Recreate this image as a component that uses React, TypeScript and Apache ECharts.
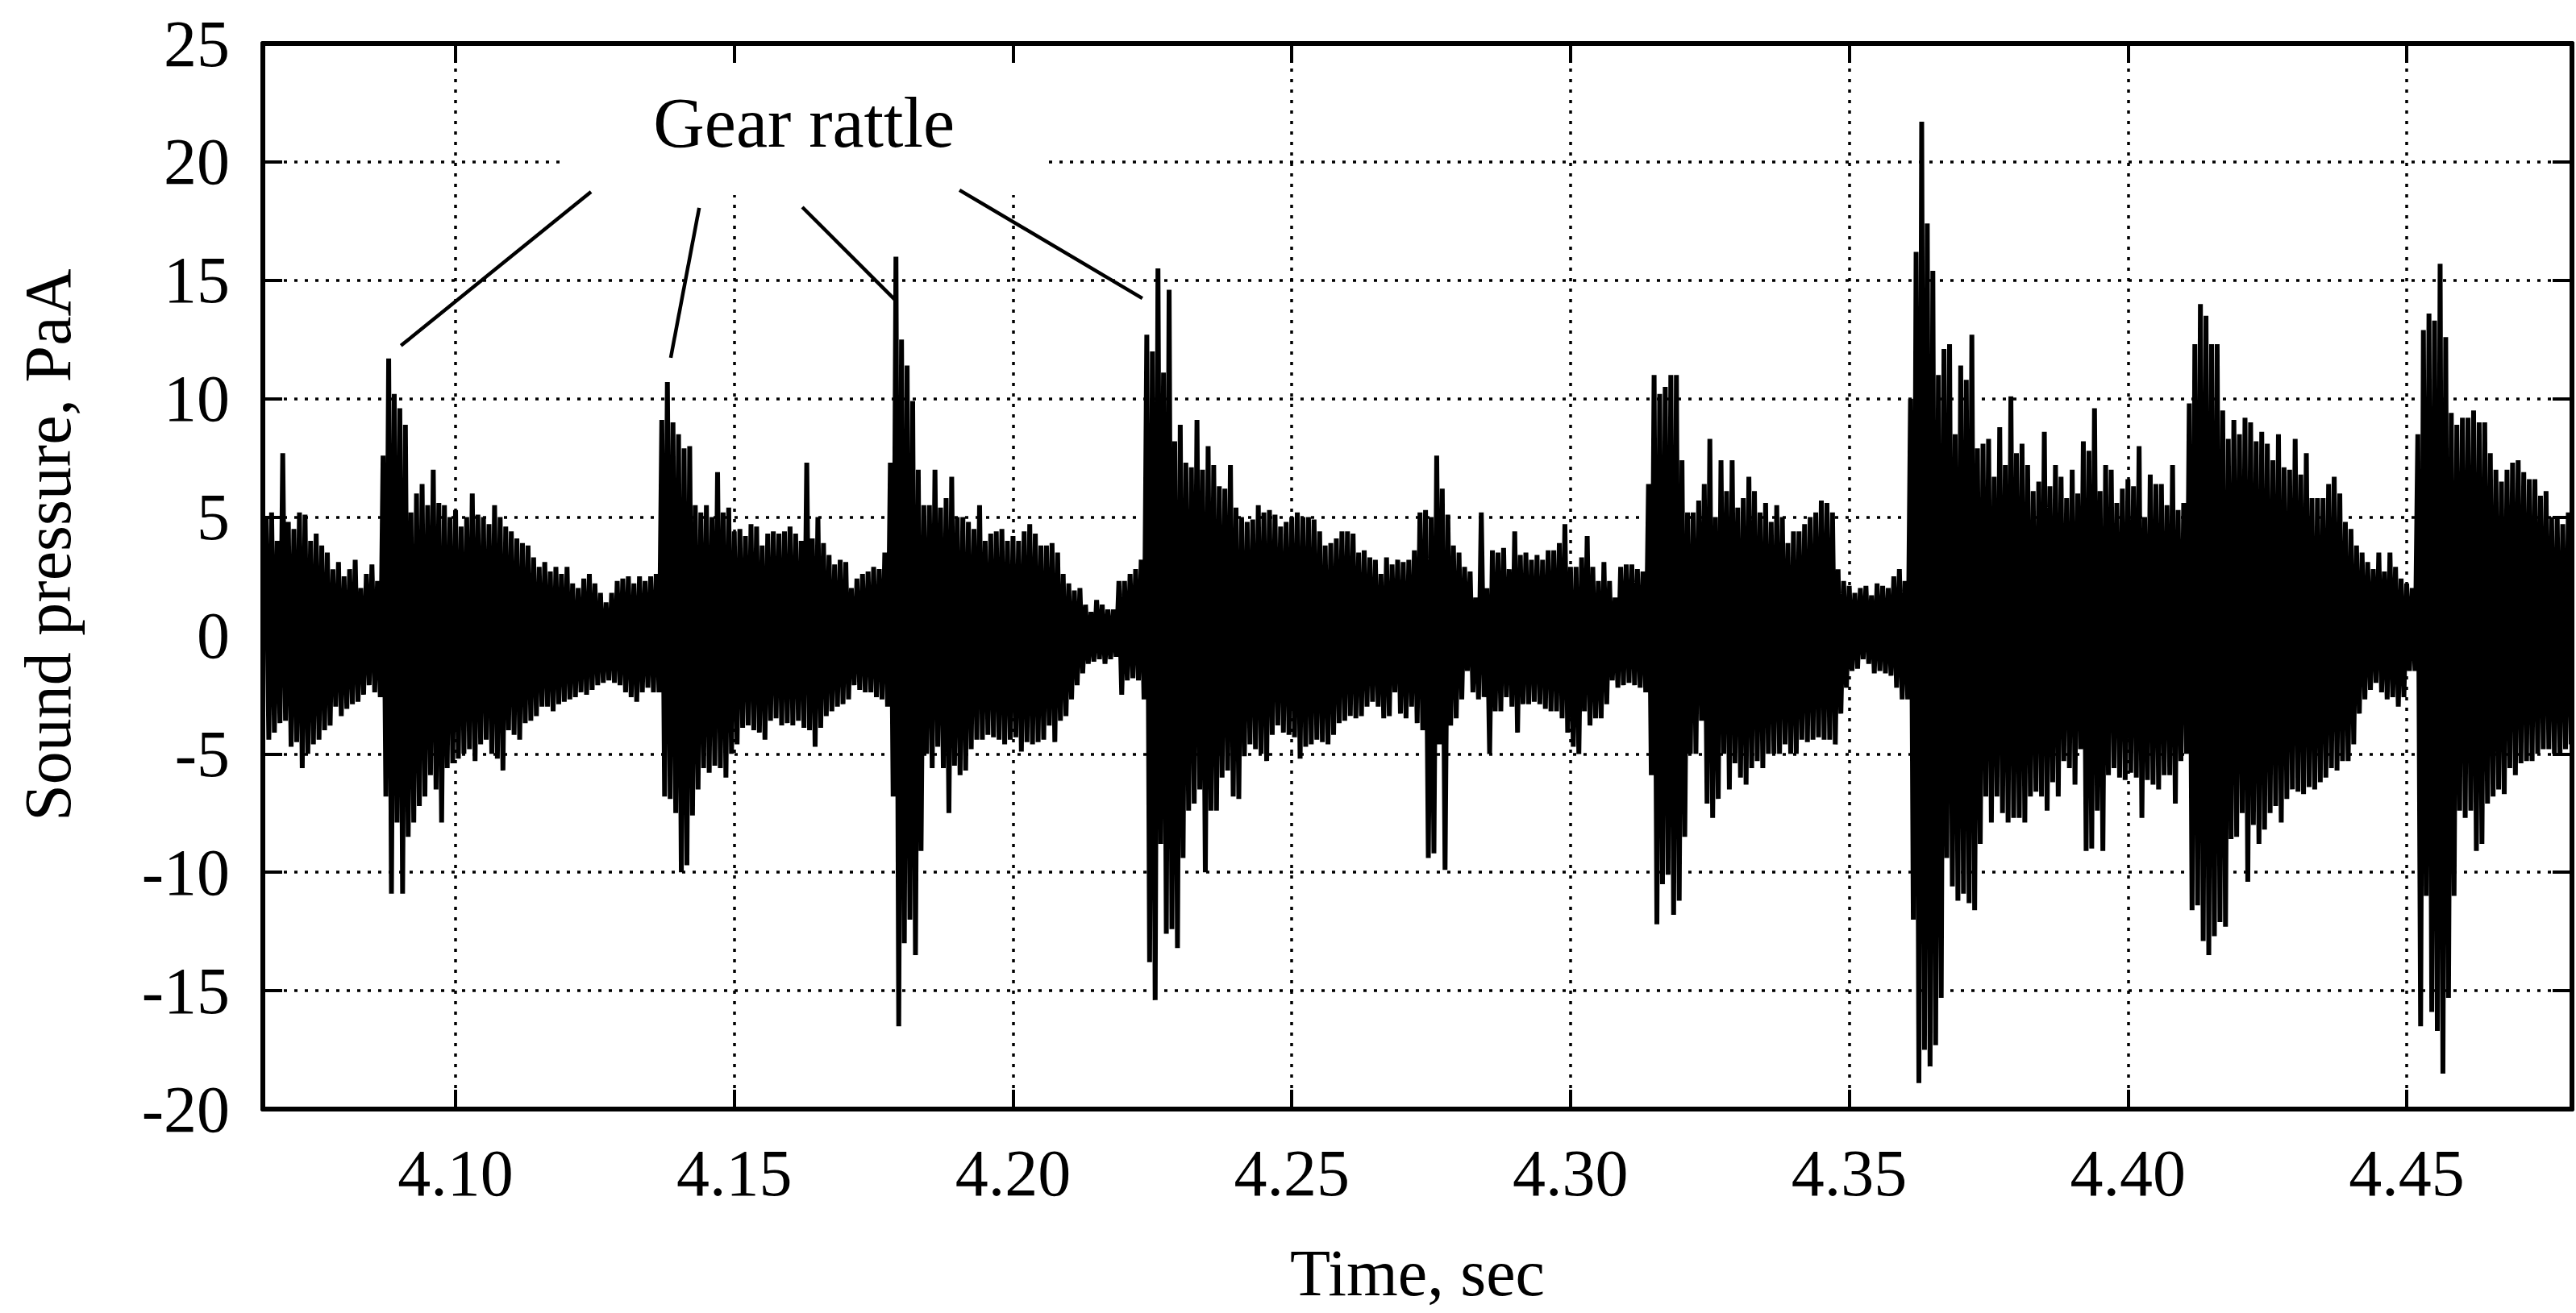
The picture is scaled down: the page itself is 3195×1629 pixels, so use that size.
import React, { useEffect, useRef } from "react";
import * as echarts from "echarts";

// ---- axes ----
const X_MIN = 4.06543;
const X_MAX = 4.47965;
const X_TICKS = [4.1, 4.15, 4.2, 4.25, 4.3, 4.35, 4.4, 4.45];
const Y_MIN = -20;
const Y_MAX = 25;
const Y_STEP = 5;

// ---- waveform envelope, read per millisecond (upper / lower excursions, PaA) ----
const DT = 0.001;
const SEG_START = [4.066, 4.137, 4.207, 4.277, 4.345, 4.415];

const HI_A = [5.0, 5.2, 4.0, 7.7, 4.8, 4.5, 5.2, 5.1, 4.0, 4.3,
  3.8, 3.5, 2.8, 3.1, 2.5, 2.8, 3.2, 2.0, 2.6, 3.0,
  2.3, 7.6, 11.7, 10.2, 9.6, 8.9, 5.2, 6.0, 6.4, 5.5,
  7.0, 5.6, 5.5, 5.0, 5.3, 4.6, 5.0, 6.0, 5.1, 5.0,
  4.7, 5.5, 5.0, 4.6, 4.4, 4.1, 3.9, 3.8, 3.3, 2.9,
  3.1, 2.7, 2.9, 2.6, 2.9, 2.2, 2.0, 2.4, 2.6, 2.2,
  1.8, 1.4, 1.8, 2.3, 2.4, 2.5, 2.2, 2.5, 2.3, 2.5,
  2.6];
const LO_A = [-4.4, -4.1, -3.7, -3.6, -4.7, -4.5, -5.6, -5.0, -4.6, -4.4,
  -4.0, -3.8, -3.0, -3.4, -3.1, -2.9, -2.8, -2.5, -2.1, -2.4,
  -2.6, -6.8, -10.9, -7.9, -10.9, -8.5, -7.9, -7.2, -6.8, -5.9,
  -6.5, -7.9, -5.6, -5.4, -5.2, -5.0, -4.8, -5.3, -4.6, -4.4,
  -5.0, -5.2, -5.7, -4.0, -4.2, -4.4, -3.7, -3.6, -3.4, -3.0,
  -3.0, -3.2, -2.9, -2.8, -2.7, -2.6, -2.4, -2.5, -2.3, -2.1,
  -2.0, -1.9, -2.0, -2.1, -2.4, -2.6, -2.8, -2.4, -2.2, -2.4,
  -2.4];

const HI_B = [9.1, 10.7, 9.0, 8.5, 7.9, 8.0, 5.5, 5.2, 5.5, 5.0,
  6.9, 5.2, 5.4, 4.4, 4.5, 4.2, 4.7, 4.6, 3.8, 4.3,
  4.4, 4.3, 4.4, 4.6, 4.3, 4.0, 7.3, 4.1, 5.0, 3.9,
  3.4, 3.0, 3.2, 3.1, 2.0, 2.4, 2.6, 2.7, 2.9, 2.8,
  3.5, 7.3, 16.0, 12.5, 11.4, 9.9, 7.0, 5.5, 5.5, 7.0,
  5.4, 5.8, 6.7, 5.0, 5.0, 4.8, 4.5, 5.5, 4.0, 4.3,
  4.4, 4.5, 4.0, 4.2, 4.0, 4.4, 4.7, 4.3, 3.8, 3.8];
const LO_B = [-6.8, -6.9, -7.5, -10.0, -9.7, -7.6, -6.5, -5.6, -5.8, -5.5,
  -5.6, -6.0, -5.0, -4.6, -3.9, -3.8, -4.0, -4.1, -4.4, -3.6,
  -3.5, -3.8, -3.7, -3.8, -3.6, -3.9, -4.0, -4.7, -3.9, -3.4,
  -3.2, -3.0, -2.9, -2.7, -2.1, -2.3, -2.4, -2.4, -2.6, -2.7,
  -3.0, -6.8, -16.5, -13.0, -12.0, -13.5, -9.1, -5.0, -5.6, -4.7,
  -5.6, -7.5, -5.5, -5.9, -5.7, -4.8, -4.4, -4.4, -4.2, -4.3,
  -4.4, -4.6, -4.4, -4.3, -4.9, -4.5, -4.6, -4.5, -4.4, -3.8];

const HI_C = [3.9, 3.5, 2.6, 2.2, 1.9, 2.0, 1.3, 1.0, 1.5, 1.3,
  1.1, 1.1, 2.3, 2.3, 2.6, 2.8, 3.2, 12.7, 12.0, 15.5,
  11.1, 14.6, 8.2, 8.9, 7.3, 7.1, 9.1, 7.0, 8.0, 7.2,
  6.3, 6.2, 7.2, 5.4, 5.0, 4.8, 4.9, 5.5, 5.2, 5.3,
  5.1, 4.6, 4.8, 5.0, 5.2, 5.0, 5.0, 4.9, 4.4, 3.8,
  3.9, 4.1, 4.4, 4.4, 4.3, 3.5, 3.6, 3.3, 3.2, 2.6,
  3.3, 3.0, 3.2, 3.1, 3.2, 3.6, 5.2, 5.3, 5.0, 7.6];
const LO_C = [-4.5, -3.6, -3.4, -2.7, -2.1, -1.6, -1.2, -1.1, -1.0, -1.2,
  -1.0, -0.9, -2.5, -1.9, -1.8, -1.9, -2.7, -13.8, -15.4, -8.8,
  -12.6, -12.4, -13.2, -9.4, -7.4, -7.1, -6.5, -10.0, -7.4, -7.4,
  -6.0, -5.7, -6.8, -6.9, -5.1, -4.6, -4.8, -5.0, -5.3, -4.2,
  -3.8, -4.1, -4.2, -4.3, -5.2, -4.7, -4.6, -4.4, -4.5, -4.6,
  -4.2, -3.7, -3.6, -3.4, -3.5, -3.4, -3.0, -2.8, -3.0, -3.5,
  -3.4, -2.4, -3.3, -3.5, -3.0, -3.7, -4.0, -9.4, -9.2, -4.6];

const HI_D = [6.2, 5.1, 3.8, 3.5, 2.9, 2.7, 1.6, 5.2, 2.0, 3.6,
  3.5, 3.7, 2.8, 4.4, 3.4, 3.5, 3.2, 3.4, 3.2, 3.6,
  3.6, 3.9, 4.7, 2.9, 2.9, 3.3, 4.2, 2.9, 2.3, 3.1,
  2.3, 1.6, 2.9, 3.0, 3.0, 2.8, 2.7, 6.4, 11.0, 10.2,
  10.5, 11.0, 11.0, 7.4, 5.2, 5.2, 5.7, 6.4, 8.3, 5.0,
  7.4, 6.1, 7.4, 5.4, 5.8, 6.7, 6.1, 5.2, 5.6, 4.8,
  5.5, 5.0, 3.9, 4.4, 4.4, 4.7, 5.0, 5.2];
const LO_D = [-9.9, -3.8, -3.5, -2.7, -1.5, -2.4, -2.7, -2.6, -5.0, -3.2,
  -3.2, -2.6, -3.0, -4.1, -2.9, -2.9, -2.8, -2.9, -3.1, -3.2,
  -3.2, -3.5, -4.1, -4.7, -5.0, -3.2, -3.8, -3.5, -3.5, -2.9,
  -1.9, -2.2, -2.1, -2.0, -2.1, -2.2, -2.4, -5.9, -12.2, -10.5,
  -10.1, -11.8, -11.2, -8.5, -5.0, -5.0, -3.6, -7.1, -7.7, -6.9,
  -5.0, -6.5, -5.4, -6.0, -6.3, -5.6, -5.3, -5.6, -5.0, -5.0,
  -5.0, -4.6, -5.0, -5.0, -4.4, -4.5, -4.4, -4.3];

const HI_E = [5.7, 5.6, 5.2, 2.8, 2.3, 2.1, 1.8, 2.0, 2.1, 1.7,
  2.2, 2.1, 2.0, 2.5, 2.8, 2.3, 10.0, 16.2, 21.7, 17.4,
  15.4, 11.0, 12.1, 12.3, 8.5, 11.4, 10.8, 12.7, 7.9, 8.1,
  8.3, 6.7, 8.8, 7.2, 10.1, 7.7, 8.1, 7.2, 6.1, 6.5,
  8.6, 6.3, 7.2, 6.7, 5.8, 7.0, 6.0, 8.2, 7.8, 9.6,
  6.1, 7.2, 7.0, 5.6, 6.2, 6.6, 6.3, 8.0, 5.0, 6.8,
  6.4, 6.4, 5.5, 7.2, 5.3, 5.6, 9.8, 12.3, 14.0, 13.5];
const LO_E = [-4.4, -4.4, -4.6, -3.3, -2.2, -1.5, -1.4, -1.0, -1.2, -1.6,
  -1.5, -1.6, -1.7, -2.2, -2.7, -2.7, -12.0, -18.9, -17.5, -18.2,
  -17.3, -15.3, -9.4, -10.6, -11.2, -10.9, -11.3, -11.6, -8.8, -6.8,
  -7.9, -6.8, -7.5, -7.9, -7.7, -7.7, -7.9, -6.8, -6.6, -6.8,
  -7.4, -6.2, -6.8, -5.3, -5.6, -6.3, -4.8, -9.1, -9.0, -7.4,
  -9.1, -5.9, -5.6, -6.0, -6.1, -5.8, -6.0, -7.7, -6.1, -6.3,
  -6.5, -5.9, -5.9, -7.1, -5.3, -5.0, -11.6, -11.4, -12.9, -13.5];

const HI_F = [12.3, 12.3, 9.5, 8.3, 9.1, 8.5, 9.2, 9.0, 8.2, 8.6,
  8.1, 7.4, 8.5, 7.1, 7.0, 8.3, 6.8, 7.7, 5.8, 5.8,
  5.8, 6.4, 6.7, 6.0, 4.8, 4.5, 3.8, 3.5, 3.1, 2.8,
  3.5, 2.7, 3.5, 2.9, 2.4, 2.2, 2.0, 8.5, 12.9, 13.6,
  13.3, 15.7, 12.6, 9.4, 8.9, 9.2, 9.2, 9.5, 9.0, 9.0,
  7.7, 7.0, 6.5, 7.0, 7.3, 7.4, 6.9, 6.6, 6.6, 5.9,
  6.1, 5.0, 5.0, 4.7, 5.2];
const LO_F = [-12.7, -12.1, -12.3, -8.6, -8.5, -7.5, -10.4, -8.0, -8.8, -8.2,
  -7.5, -7.2, -7.9, -6.9, -6.5, -6.6, -6.7, -6.4, -6.5, -6.2,
  -6.0, -5.6, -5.7, -5.3, -5.3, -4.6, -3.3, -2.7, -2.3, -2.0,
  -2.4, -2.7, -2.6, -3.0, -2.6, -1.5, -1.5, -16.5, -11.0, -15.9,
  -16.7, -18.5, -15.3, -11.0, -7.4, -7.7, -7.4, -9.1, -8.8, -7.1,
  -6.8, -6.5, -6.7, -5.6, -5.9, -5.4, -5.3, -5.3, -5.0, -4.8,
  -4.8, -5.0, -5.0, -4.8, -4.6];

const HI_SEGS = [HI_A, HI_B, HI_C, HI_D, HI_E, HI_F];
const LO_SEGS = [LO_A, LO_B, LO_C, LO_D, LO_E, LO_F];

// ---- annotation (data coordinates) ----
const LABEL_TEXT = "Gear rattle";
const LABEL_AT = [4.1625, 21.66];
const POINTER_FROM = [[4.1243, 18.74], [4.1437, 18.06], [4.1622, 18.09], [4.1904, 18.81]];
const POINTER_TO = [[4.0902, 12.24], [4.1386, 11.73], [4.1791, 14.11], [4.2232, 14.24]];
const LABEL_MASK = [[4.1191, 24.1], [4.2063, 18.6]];

const X_TITLE = "Time, sec";
const Y_TITLE = "Sound pressure, PaA";

const FONT = "'Liberation Serif', 'Times New Roman', Times, serif";
const DOTS = [4, 9];

function buildWave(): number[][] {
  const pts: number[][] = [];
  SEG_START.forEach((t0, s) => {
    const hi = HI_SEGS[s];
    const lo = LO_SEGS[s];
    for (let i = 0; i < hi.length; i++) {
      const t = t0 + i * DT;
      pts.push([+t.toFixed(5), hi[i]]);
      pts.push([+(t + DT / 2).toFixed(5), lo[i]]);
    }
  });
  return pts;
}

export default function App() {
  const ref = useRef<HTMLDivElement>(null);

  useEffect(() => {
    if (!ref.current) return;
    const chart = echarts.init(ref.current, undefined, { renderer: "svg" });

    const axisLine = { show: true, onZero: false, lineStyle: { color: "#000", width: 6 } };
    const tickStyle = { color: "#000", width: 4 };
    const gridDots = { color: "#000", width: 3.5, type: DOTS };

    const option: any = {
      animation: false,
      backgroundColor: "#fff",
      grid: {
        left: 326,
        top: 54,
        right: 5,
        bottom: 253,
        containLabel: false,
        outerBoundsMode: "none",
        show: false,
      },
      xAxis: [
        {
          type: "value",
          position: "bottom",
          min: X_MIN,
          max: X_MAX,
          axisLine,
          axisTick: { show: true, inside: true, length: 24, customValues: X_TICKS, lineStyle: tickStyle },
          axisLabel: {
            show: true,
            customValues: X_TICKS,
            formatter: (v: number) => v.toFixed(2),
            color: "#000",
            fontFamily: FONT,
            fontSize: 82,
            margin: 38,
          },
          splitLine: { show: false },
        },
        {
          type: "value",
          position: "top",
          min: X_MIN,
          max: X_MAX,
          axisLine,
          axisTick: { show: true, inside: true, length: 24, customValues: X_TICKS, lineStyle: tickStyle },
          axisLabel: { show: false },
          splitLine: { show: false },
        },
      ],
      yAxis: [
        {
          type: "value",
          position: "left",
          min: Y_MIN,
          max: Y_MAX,
          interval: Y_STEP,
          axisLine,
          axisTick: { show: true, inside: true, length: 24, lineStyle: tickStyle },
          axisLabel: { color: "#000", fontFamily: FONT, fontSize: 82, margin: 41 },
          splitLine: { show: true, lineStyle: gridDots },
        },
        {
          type: "value",
          position: "right",
          min: Y_MIN,
          max: Y_MAX,
          interval: Y_STEP,
          axisLine,
          axisTick: { show: true, inside: true, length: 24, lineStyle: tickStyle },
          axisLabel: { show: false },
          splitLine: { show: false },
        },
      ],
      series: [
        {
          type: "line",
          xAxisIndex: 0,
          yAxisIndex: 0,
          data: buildWave(),
          showSymbol: false,
          symbol: "none",
          silent: true,
          z: 2,
          lineStyle: { color: "#000", width: 6, join: "miter", miterLimit: 2 },
          markLine: {
            silent: true,
            symbol: ["none", "none"],
            label: { show: false },
            emphasis: { disabled: true },
            lineStyle: gridDots,
            data: X_TICKS.map((v) => ({ xAxis: v })),
          },
        },
      ],
    };
    chart.setOption(option);

    const px = (d: number[]) => chart.convertToPixel({ gridIndex: 0 }, d) as number[];
    const m0 = px(LABEL_MASK[0]);
    const m1 = px(LABEL_MASK[1]);
    const lab = px(LABEL_AT);
    const graphics: any[] = [
      {
        type: "rect",
        z: 100,
        silent: true,
        shape: { x: m0[0], y: m0[1], width: m1[0] - m0[0], height: m1[1] - m0[1] },
        style: { fill: "#fff" },
      },
      {
        type: "text",
        z: 101,
        x: lab[0],
        y: lab[1],
        style: {
          text: LABEL_TEXT,
          fill: "#000",
          fontFamily: FONT,
          fontSize: 88,
          align: "center",
          verticalAlign: "middle",
        },
      },
    ];
    POINTER_FROM.forEach((f, i) => {
      const a = px(f);
      const b = px(POINTER_TO[i]);
      graphics.push({
        type: "line",
        z: 101,
        silent: true,
        shape: { x1: a[0], y1: a[1], x2: b[0], y2: b[1] },
        style: { stroke: "#000", lineWidth: 4.5 },
      });
    });
    const gl = px([X_MIN, 0])[0];
    const gr = px([X_MAX, 0])[0];
    const gt = px([X_MIN, Y_MAX])[1];
    const gb = px([X_MIN, Y_MIN])[1];
    graphics.push({
      type: "text",
      z: 101,
      x: (gl + gr) / 2,
      y: gb + 203,
      style: { text: X_TITLE, fill: "#000", fontFamily: FONT, fontSize: 82, align: "center", verticalAlign: "middle" },
    });
    graphics.push({
      type: "text",
      z: 101,
      x: gl - 267,
      y: (gt + gb) / 2 - 39,
      rotation: Math.PI / 2,
      style: { text: Y_TITLE, fill: "#000", fontFamily: FONT, fontSize: 82, align: "center", verticalAlign: "middle" },
    });
    chart.setOption({ graphic: { elements: graphics } });

    return () => {
      chart.dispose();
    };
  }, []);

  return (
    <div
      ref={ref}
      style={{ position: "absolute", left: 0, top: 0, width: 3195, height: 1629, background: "#fff" }}
    />
  );
}
